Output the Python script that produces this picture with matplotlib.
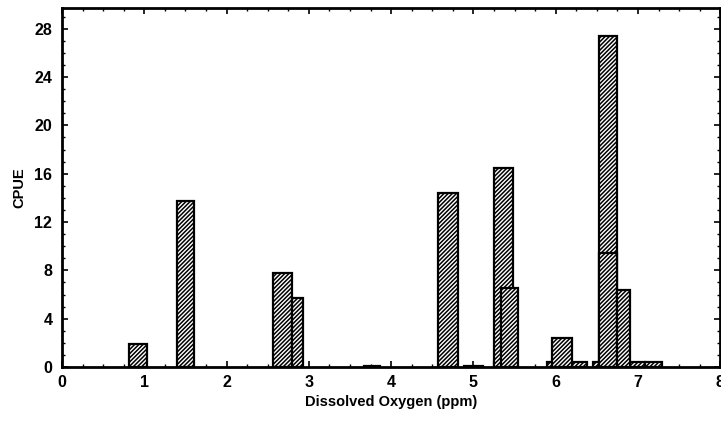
import numpy as np
import matplotlib
matplotlib.use('Agg')
import matplotlib.pyplot as plt

# bins: left edge, width, CPUE (drawn back to front)
bin_left = [3.67, 4.88, 2.60, 5.25, 5.90, 6.20, 6.45, 6.90, 7.08,
            0.82, 1.40, 2.56, 2.79, 4.57, 5.25, 5.34, 5.95, 6.53, 6.53, 6.74]
bin_width = [0.20, 0.24, 0.20, 0.20, 0.10, 0.18, 0.25, 0.18, 0.21,
             0.21, 0.21, 0.23, 0.14, 0.24, 0.23, 0.20, 0.25, 0.21, 0.21, 0.16]
cpue = [0.1, 0.1, 1.75, 0.4, 0.4, 0.4, 0.4, 0.4, 0.4,
        1.9, 13.7, 7.75, 5.7, 14.4, 16.5, 6.5, 2.4, 27.4, 9.4, 6.4]

y_ticks = [0, 4, 8, 12, 16, 20, 24, 28]
x_ticks = [0, 1, 2, 3, 4, 5, 6, 7, 8]

plt.rcParams['font.family'] = ['Liberation Sans', 'DejaVu Sans']
plt.rcParams['hatch.linewidth'] = 1.1

fig = plt.figure(figsize=(7.21, 4.28), dpi=100)
ax = fig.add_axes([0.086, 0.1425, 0.913, 0.8385])

ax.bar(bin_left, cpue, width=bin_width, align='edge', color='white',
       edgecolor='black', linewidth=1.6, hatch='////////', zorder=2)

ax.set_xlim(0, 8)
ax.set_ylim(0, 29.7)
ax.set_xticks(x_ticks)
ax.set_yticks(y_ticks)
ax.set_xticks(np.arange(0, 8.01, 0.25), minor=True)
ax.set_yticks(np.arange(0, 29.7, 1), minor=True)
ax.tick_params(which='both', direction='in', top=True, right=True)
ax.tick_params(which='major', length=4, width=1.2, labelsize=11.5)
ax.tick_params(axis='x', which='major', pad=6)
ax.tick_params(axis='y', which='major', pad=7)
ax.tick_params(which='minor', length=2, width=1)
for lab in ax.get_xticklabels() + ax.get_yticklabels():
    lab.set_fontweight('bold')

for s in ax.spines.values():
    s.set_linewidth(2)

ax.set_xlabel('Dissolved Oxygen (ppm)', fontsize=10.5, fontweight='bold', labelpad=3)
ax.set_ylabel('CPUE', fontsize=10.5, fontweight='bold', labelpad=6)

fig.savefig('out.png', dpi=100)
